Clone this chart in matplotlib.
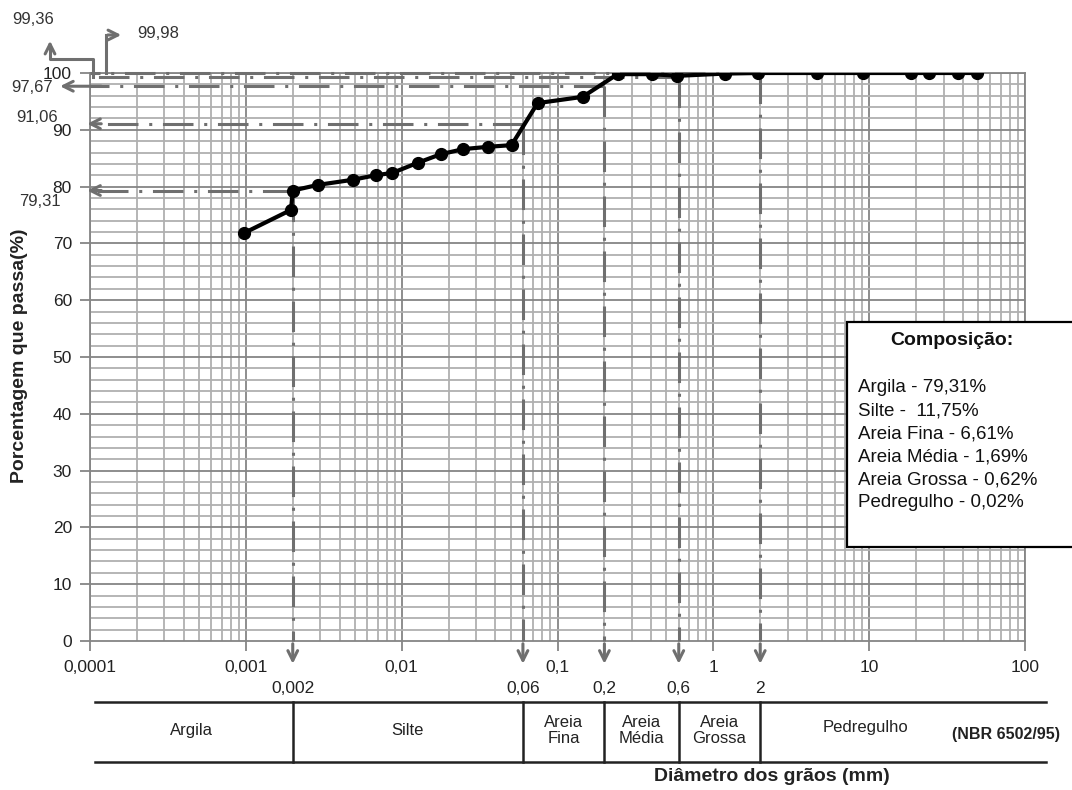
import numpy as np
import matplotlib.pyplot as plt
from matplotlib.lines import Line2D
from matplotlib.patches import Rectangle

plt.rcParams['font.family'] = ['Liberation Sans', 'DejaVu Sans']

# curva granulometrica
diametro = [0.00097, 0.00195, 0.002, 0.0029, 0.00485, 0.0068, 0.0087, 0.0127,
            0.0178, 0.0249, 0.0356, 0.0507, 0.0745, 0.145, 0.243, 0.406, 0.587,
            1.19, 1.94, 4.64, 9.16, 18.6, 24.3, 37.2, 49.2]
passa = [71.8, 75.9, 79.3, 80.3, 81.2, 82.0, 82.4, 84.2, 85.7, 86.6, 87.0, 87.3,
         94.7, 95.8, 99.8, 99.8, 99.5, 99.9, 100, 100, 100, 100, 100, 100, 100]

# limites NBR 6502/95 e porcentagens acumuladas
limites = [0.002, 0.06, 0.2, 0.6, 2]
limites_txt = ['0,002', '0,06', '0,2', '0,6', '2']
acumulado = [79.31, 91.06, 97.67, 99.36, 99.98]
acumulado_txt = ['79,31', '91,06', '97,67', '99,36', '99,98']

xticks = [0.0001, 0.001, 0.01, 0.1, 1, 10, 100]
xtick_labels = ['0,0001', '0,001', '0,01', '0,1', '1', '10', '100']
yticks = list(range(0, 101, 10))

fracoes = ['Argila', 'Silte', 'Areia\nFina', 'Areia\nMédia', 'Areia\nGrossa', 'Pedregulho']
composicao = ['Argila - 79,31%', 'Silte -  11,75%', 'Areia Fina - 6,61%',
              'Areia Média - 1,69%', 'Areia Grossa - 0,62%', 'Pedregulho - 0,02%']

W, H = 1072, 790
fig = plt.figure(figsize=(W / 100, H / 100), dpi=100)
ax = fig.add_axes([90 / W, 1 - 641 / H, (1025 - 90) / W, (641 - 73) / H])

ax.set_xscale('log')
ax.set_xlim(0.0001, 100)
ax.set_ylim(0, 100)

# grade
cinza_min = '#b0b0b0'
cinza_maj = '#858585'
for d in range(-4, 2):
    for k in range(2, 10):
        ax.axvline(k * 10.0 ** d, color=cinza_min, lw=1.3, zorder=0)
for d in xticks:
    ax.axvline(d, color=cinza_maj, lw=1.3, zorder=0)
for v in range(2, 101, 2):
    ax.axhline(v, color=cinza_maj if v % 10 == 0 else cinza_min, lw=1.3, zorder=0)

for s in ax.spines.values():
    s.set_color(cinza_maj)
    s.set_linewidth(1.3)

ax.set_xticks(xticks)
ax.set_xticklabels(xtick_labels)
ax.minorticks_off()
ax.set_yticks(yticks)
ax.tick_params(axis='both', colors=cinza_maj, labelcolor='#222222', labelsize=12.5,
               length=7, width=1.3)
ax.tick_params(axis='x', pad=7)
ax.tick_params(axis='y', pad=6)

# curva
ax.plot(diametro, passa, color='black', lw=3, marker='o', ms=8.5, zorder=5)

# linhas de referencia
cinza_ref = '#6f6f6f'
traco = (0, (10, 3.5, 1, 3.5))
for i, (xb, yv) in enumerate(zip(limites, acumulado)):
    ax.plot([xb, 0.0001], [yv, yv], color=cinza_ref, lw=2.2, ls=traco, clip_on=False, zorder=3)
    ax.plot([xb, xb], [yv, 0], color=cinza_ref, lw=2.2, ls=traco, clip_on=False, zorder=3)
    ax.annotate('', xy=(xb, -0.045), xytext=(xb, 0.0),
                xycoords=('data', 'axes fraction'),
                arrowprops=dict(arrowstyle='->,head_length=0.7,head_width=0.35',
                                color=cinza_ref, lw=2.2))
    ax.text(xb, -0.084, limites_txt[i], transform=ax.get_xaxis_transform(),
            ha='center', va='center', fontsize=12.5, color='#222222')

# setas horizontais (79,31 / 91,06 / 97,67)
for yv, tip in zip(acumulado[:3], [-0.006, -0.006, -0.035]):
    ax.annotate('', xy=(tip, yv), xytext=(0.015, yv),
                xycoords=('axes fraction', 'data'),
                arrowprops=dict(arrowstyle='->,head_length=0.7,head_width=0.35',
                                color=cinza_ref, lw=2.2))


def fx(px):
    return px / W


def fy(py):
    return 1 - py / H


fig.text(fx(40), fy(201), acumulado_txt[0], ha='center', va='center', fontsize=12, color='#333333')
fig.text(fx(37), fy(118), acumulado_txt[1], ha='center', va='center', fontsize=12, color='#333333')
fig.text(fx(32), fy(88), acumulado_txt[2], ha='center', va='center', fontsize=12, color='#333333')

# setas dobradas 99,36 e 99,98
fig.add_artist(Line2D([fx(93), fx(93), fx(50), fx(50)], [fy(77), fy(59), fy(59), fy(50)],
                      color=cinza_ref, lw=2.2))
fig.add_artist(Line2D([fx(106), fx(106)], [fy(73), fy(35)], color=cinza_ref, lw=2.2))
ax.annotate('', xy=(fx(50), fy(38)), xytext=(fx(50), fy(52)), xycoords='figure fraction',
            arrowprops=dict(arrowstyle='->,head_length=0.7,head_width=0.35', color=cinza_ref, lw=2.2),
            annotation_clip=False)
ax.annotate('', xy=(fx(124), fy(35)), xytext=(fx(105), fy(35)), xycoords='figure fraction',
            arrowprops=dict(arrowstyle='->,head_length=0.7,head_width=0.35', color=cinza_ref, lw=2.2),
            annotation_clip=False)
fig.text(fx(33), fy(20), acumulado_txt[3], ha='center', va='center', fontsize=12, color='#333333')
fig.text(fx(137), fy(33), acumulado_txt[4], ha='left', va='center', fontsize=12, color='#333333')

# tabela de fracoes
xt = ax.get_xaxis_transform()
x_ini, x_fim = 0.000108, 136
y_top, y_bot = -0.108, -0.213
ax.plot([x_ini, x_fim], [y_top, y_top], color='#222222', lw=1.8, transform=xt, clip_on=False)
ax.plot([x_ini, x_fim], [y_bot, y_bot], color='#222222', lw=1.8, transform=xt, clip_on=False)
for xb in limites:
    ax.plot([xb, xb], [y_top, y_bot], color='#222222', lw=1.8, transform=xt, clip_on=False)
bordas = [0.0001] + limites
for i, nome in enumerate(fracoes[:-1]):
    xc = np.sqrt(bordas[i] * bordas[i + 1])
    ax.text(xc, -0.158, nome, transform=xt, ha='center', va='center', fontsize=12,
            color='#222222', linespacing=1.1)
ax.text(9.5, -0.153, fracoes[-1], transform=xt, ha='center', va='center', fontsize=12,
        color='#222222')
ax.text(76, -0.165, '(NBR 6502/95)', transform=xt, ha='center', va='center', fontsize=11.5,
        fontweight='bold', color='#222222')
ax.text(2.36, -0.239, 'Diâmetro dos grãos (mm)', transform=xt, ha='center', va='center',
        fontsize=14, fontweight='bold', color='#222222')

fig.text(fx(20), fy(356), 'Porcentagem que passa(%)', rotation=90, ha='center', va='center',
         fontsize=14, fontweight='bold', color='#222222')

# caixa de composicao
fig.add_artist(Rectangle((fx(847), fy(547)), fx(1080) - fx(847), fy(322) - fy(547),
                         transform=fig.transFigure, facecolor='white', edgecolor='black', lw=1.6))
fig.text(fx(952), fy(340), 'Composição:', ha='center', va='center', fontsize=14,
         fontweight='bold', color='#111111')
for i, linha in enumerate(composicao):
    fig.text(fx(858), fy(388 + i * 23), linha, ha='left', va='center', fontsize=13.5,
             color='#111111')

fig.savefig('out.png', dpi=100, facecolor='white')
